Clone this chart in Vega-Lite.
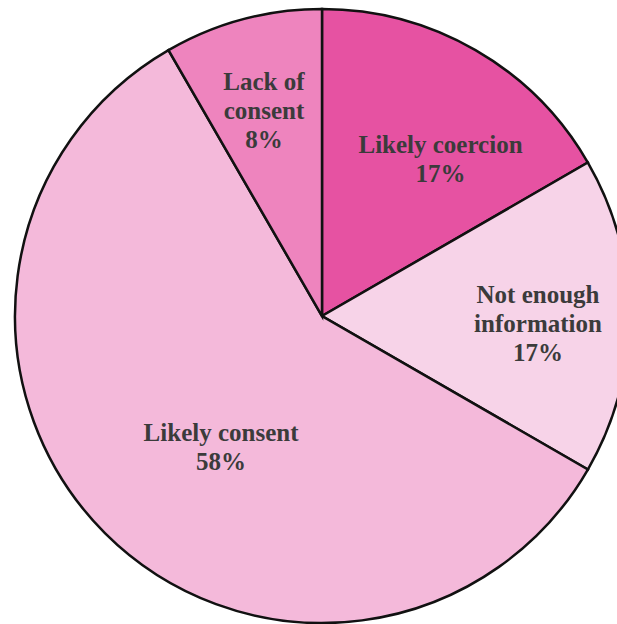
{
  "$schema": "https://vega.github.io/schema/vega-lite/v6.json",
  "width": 590,
  "height": 616,
  "autosize": "none",
  "padding": {"left": 27, "top": 8, "right": 0, "bottom": 0},
  "background": "white",
  "config": {"view": {"stroke": null}},
  "data": {
    "values": [
      {"category": "Likely coercion", "count": 2, "order": 1, "label": "Likely coercion\n17%"},
      {"category": "Not enough information", "count": 2, "order": 2, "label": "Not enough\ninformation\n17%"},
      {"category": "Likely consent", "count": 7, "order": 3, "label": "Likely consent\n58%"},
      {"category": "Lack of consent", "count": 1, "order": 4, "label": "Lack of\nconsent\n8%"}
    ]
  },
  "encoding": {
    "theta": {"field": "count", "type": "quantitative", "stack": true},
    "order": {"field": "order", "type": "quantitative"}
  },
  "layer": [
    {
      "mark": {"type": "arc", "outerRadius": 307, "stroke": "#111111", "strokeWidth": 2.5},
      "encoding": {
        "color": {
          "field": "category",
          "type": "nominal",
          "legend": null,
          "scale": {
            "domain": ["Likely coercion", "Not enough information", "Likely consent", "Lack of consent"],
            "range": ["#E652A2", "#F7D3E8", "#F4B9DA", "#EE84BE"]
          }
        }
      }
    },
    {
      "mark": {"type": "text", "radius": 205, "dx": -5, "dy": -36, "lineBreak": "\n", "font": "Liberation Serif", "fontWeight": "bold", "fontSize": 25, "lineHeight": 29, "fill": "#3b3b3b", "align": "center", "baseline": "middle"},
      "encoding": {"text": {"condition": {"test": "datum.category === 'Lack of consent'", "field": "label"}, "value": ""}}
    },
    {
      "mark": {"type": "text", "radius": 205, "dx": 16, "dy": 7, "lineBreak": "\n", "font": "Liberation Serif", "fontWeight": "bold", "fontSize": 25, "lineHeight": 29, "fill": "#3b3b3b", "align": "center", "baseline": "middle"},
      "encoding": {"text": {"condition": {"test": "datum.category === 'Likely coercion'", "field": "label"}, "value": ""}}
    },
    {
      "mark": {"type": "text", "radius": 205, "dx": 11, "dy": -21, "lineBreak": "\n", "font": "Liberation Serif", "fontWeight": "bold", "fontSize": 25, "lineHeight": 29, "fill": "#3b3b3b", "align": "center", "baseline": "middle"},
      "encoding": {"text": {"condition": {"test": "datum.category === 'Not enough information'", "field": "label"}, "value": ""}}
    },
    {
      "mark": {"type": "text", "radius": 205, "dx": 44, "dy": -28, "lineBreak": "\n", "font": "Liberation Serif", "fontWeight": "bold", "fontSize": 25, "lineHeight": 29, "fill": "#3b3b3b", "align": "center", "baseline": "middle"},
      "encoding": {"text": {"condition": {"test": "datum.category === 'Likely consent'", "field": "label"}, "value": ""}}
    }
  ]
}
